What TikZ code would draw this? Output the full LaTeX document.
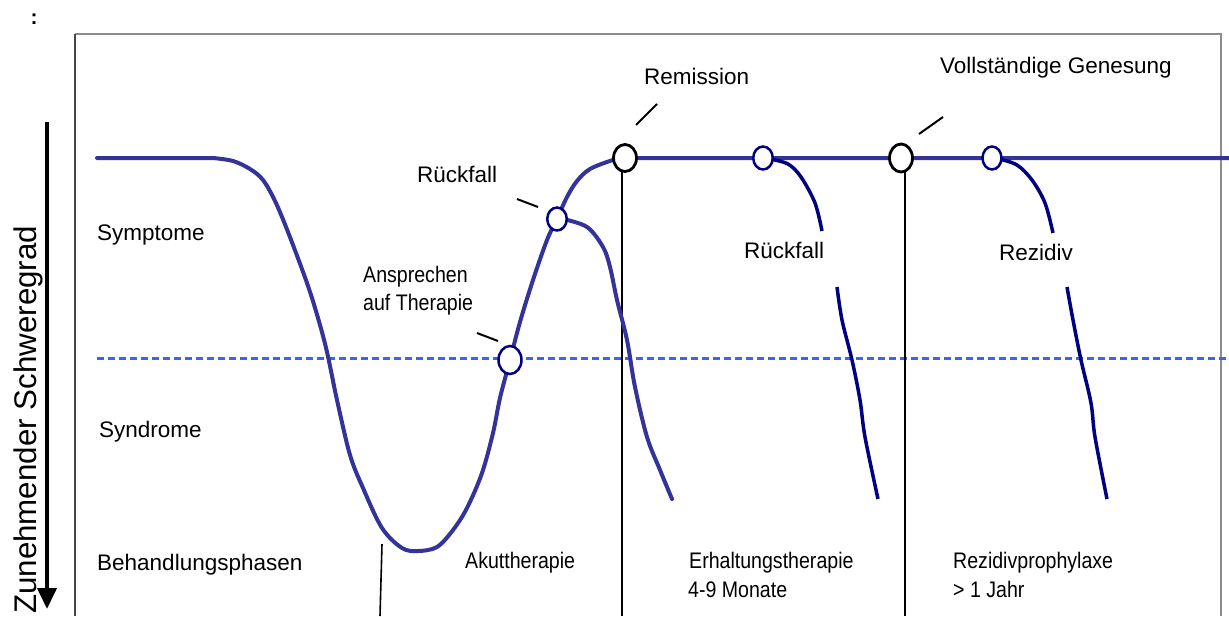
\documentclass[tikz,border=0pt]{standalone}
\usepackage{fontspec}
\setmainfont{Liberation Sans}
\newfontfamily\condfont{Liberation Sans}[FakeStretch=0.87]
\usetikzlibrary{arrows.meta,shapes.geometric}
\definecolor{curveblue}{RGB}{51,51,153}
\definecolor{navyline}{RGB}{0,0,128}
\definecolor{dotblue}{RGB}{60,100,240}
\definecolor{framegray}{RGB}{140,140,140}
\definecolor{framedark}{RGB}{70,70,70}
\begin{document}
\begin{tikzpicture}[x=1pt,y=-1pt,
  lab/.style={anchor=base west, inner sep=0pt, font=\fontsize{22.5}{27}\selectfont},
  clab/.style={anchor=base west, inner sep=0pt, font=\condfont\fontsize{22.5}{27}\selectfont},
  bluering/.style={ellipse, draw=navyline, line width=2.5pt, fill=white, inner sep=0pt},
  blackring/.style={ellipse, draw=black, line width=2.8pt, fill=white, inner sep=0pt},
  maincurve/.style={curveblue, line width=4pt, line join=round, line cap=round},
  branchcurve/.style={navyline, line width=3.5pt, line join=round},
  ticker/.style={black, line width=2pt},
  phaseline/.style={black, line width=1.6pt},
  guideline/.style={dotblue, line width=3pt, dash pattern=on 7pt off 4pt}]
\useasboundingbox (0,0) rectangle (1229,616);

% frame
\coordinate (fbl) at (75,616);
\coordinate (ftl) at (75,34);
\coordinate (ftr) at (1221,34);
\coordinate (fbr) at (1221,616);
\draw[framegray, line width=1.6pt] (ftl) -- (ftr) -- (fbr);
\draw[framedark, line width=1.8pt] (fbl) -- (ftl);

% colon
\node[anchor=base, inner sep=0pt, font=\bfseries\fontsize{21}{24}\selectfont] (colon) at (34,24.5) {:};

% axis arrow and label
\coordinate (atop) at (47,122);
\coordinate (abot) at (47,609);
\draw[black, line width=4pt, -{Triangle[width=19pt,length=21pt]}] (atop) -- (abot);
\node[rotate=90, anchor=base west, inner sep=0pt, font=\fontsize{31.3}{38}\selectfont] (axislab) at (36,614) {Zunehmender Schweregrad};

% dotted threshold
\coordinate (dl) at (97,358);
\coordinate (dr) at (1229,358);
\draw[guideline] (dl) -- (dr);

% phase lines
\coordinate (p1t) at (382,544);
\coordinate (p1b) at (380,616);
\coordinate (p2t) at (622,158);
\coordinate (p2b) at (622,616);
\coordinate (p3t) at (905,158);
\coordinate (p3b) at (905,616);
\draw[phaseline] (p1t) -- (p1b);
\draw[phaseline] (p2t) -- (p2b);
\draw[phaseline] (p3t) -- (p3b);

% main curve
\draw[maincurve] (97,158) -- (213,158) -- plot[smooth, tension=0.55] coordinates {
 (213,158) (233,161) (250,169) (263,180) (275,201) (288,232) (307,283) (318,318)
 (327,352) (337,400) (350,455) (363,488) (382,528) (402,548) (418,551) (437,547)
 (453,530) (467,508) (482,473) (493,433) (500,398) (510,360) (520,322) (533,280)
 (547,240) (557,219) (567,197) (577,181) (590,169) (613,160) (626,158)} -- (1229,158);

% first relapse branch
\draw[maincurve] plot[smooth, tension=0.55] coordinates {
 (563,219) (587,227) (603,247) (610,267) (617,300) (627,340) (635,387) (647,437) (660,470) (672,499)};

% relapse after remission
\draw[branchcurve] plot[smooth, tension=0.55] coordinates {
 (770,159) (788,164) (801,177) (815,203) (822,231)};
\draw[branchcurve] plot[smooth, tension=0.55] coordinates {
 (837,287) (842,320) (852,360) (860,400) (865,437) (878,499)};

% recurrence after recovery
\draw[branchcurve] plot[smooth, tension=0.55] coordinates {
 (999,159) (1017,165) (1032,180) (1045,203) (1053,233)};
\draw[branchcurve] plot[smooth, tension=0.55] coordinates {
 (1067,287) (1073,320) (1081,360) (1091,403) (1095,437) (1107,499)};

% circles
\node[bluering, minimum width=23pt, minimum height=28pt] (c1) at (510,360) {};
\node[bluering, minimum width=19.5pt, minimum height=23pt] (c2) at (557,219) {};
\node[blackring, minimum width=23pt, minimum height=27pt] (c3) at (625,158) {};
\node[bluering, minimum width=19.5pt, minimum height=23pt] (c4) at (763,158) {};
\node[blackring, minimum width=23pt, minimum height=28pt] (c5) at (901,158) {};
\node[bluering, minimum width=19pt, minimum height=23pt] (c6) at (992,158) {};

% label ticks
\coordinate (t1a) at (477,333); \coordinate (t1b) at (498,341);
\coordinate (t2a) at (517,199); \coordinate (t2b) at (538,207);
\coordinate (t3a) at (636,125); \coordinate (t3b) at (657,104);
\coordinate (t4a) at (919,134); \coordinate (t4b) at (943,117);
\draw[ticker] (t1a) -- (t1b);
\draw[ticker] (t2a) -- (t2b);
\draw[ticker] (t3a) -- (t3b);
\draw[ticker] (t4a) -- (t4b);

% left labels
\node[lab] (symp) at (97,240) {Symptome};
\node[lab] (synd) at (99,437) {Syndrome};
\node[lab] (beh) at (97,570) {Behandlungsphasen};

% event labels
\node[clab] (ansp1) at (363,282) {Ansprechen};
\node[clab] (ansp2) at (363,310) {auf Therapie};
\node[lab] (rueck1) at (417,182) {Rückfall};
\node[lab] (remis) at (644,84) {Remission};
\node[lab] (genes) at (940,73) {Vollständige Genesung};
\node[lab] (rueck2) at (744,258) {Rückfall};
\node[lab] (rezid) at (999,260) {Rezidiv};

% phase labels
\node[clab] (akut) at (465,568) {Akuttherapie};
\node[clab] (erh1) at (689,568) {Erhaltungstherapie};
\node[clab] (erh2) at (688,597) {4-9 Monate};
\node[clab] (rez1) at (953,568) {Rezidivprophylaxe};
\node[clab] (rez2) at (953,597) {> 1 Jahr};
\end{tikzpicture}
\end{document}
